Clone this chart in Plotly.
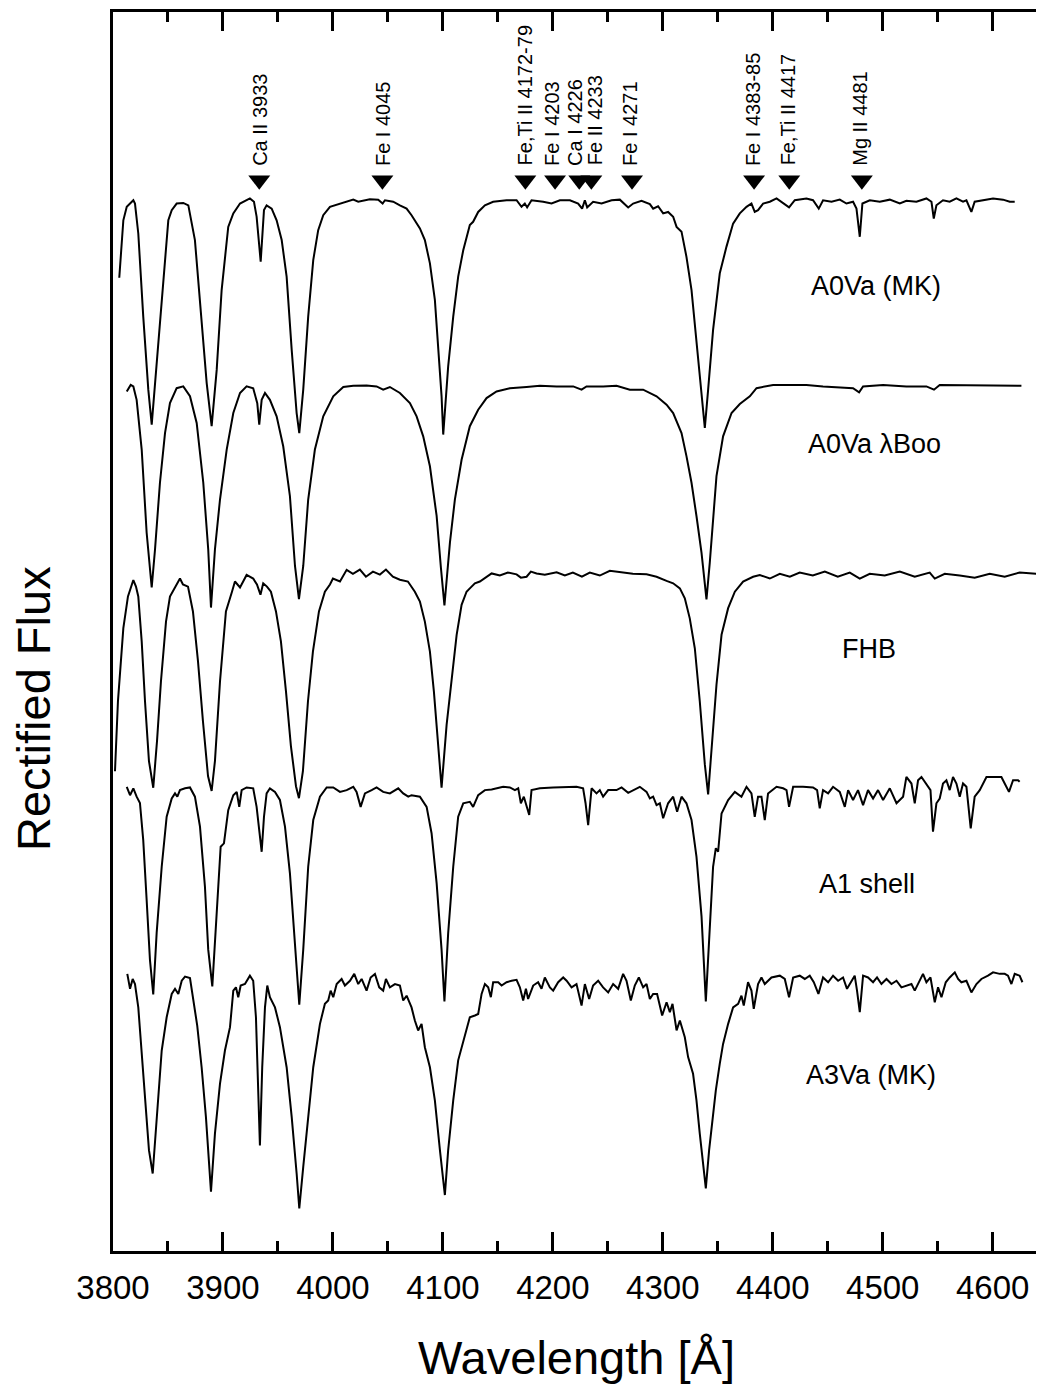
import plotly.graph_objects as go

# ---------------- data ----------------
# A0Va (MK)
wl_a0mk = [3805.7,3809.4,3812.5,3818.5,3820.0,3823.0,3827.5,3832.1,3835.2,3839.7,3845.7,3850.3,3853.4,3857.9,3863.9,3868.5,3874.5,3879.1,3885.2,3889.7,
           3894.3,3898.8,3904.8,3909.4,3915.5,3924.5,3928.2,3930.6,3934.3,3937.3,3939.7,3944.3,3948.8,3953.4,3957.9,3962.5,3967.0,3969.4,3973.0,3977.5,
           3982.1,3986.6,3991.2,3997.3,4006.4,4012.5,4018.5,4023.0,4027.5,4033.6,4041.2,4045.2,4047.3,4054.8,4060.9,4067.0,4071.5,4074.5,4079.1,4083.6,
           4088.2,4092.7,4095.7,4098.8,4100.3,4104.8,4109.4,4113.9,4118.5,4124.5,4127.5,4132.1,4138.2,4145.7,4157.9,4167.0,4171.5,4174.5,4176.6,4180.6,
           4191.2,4198.8,4206.4,4215.5,4223.0,4226.6,4229.1,4231.2,4236.6,4244.3,4253.4,4260.9,4268.5,4273.0,4280.6,4288.2,4291.2,4295.7,4300.3,4304.8,
           4309.4,4312.5,4317.0,4321.5,4326.1,4330.6,4335.2,4338.2,4341.2,4345.7,4351.8,4357.9,4363.9,4370.0,4376.1,4380.6,4383.6,4386.6,4391.2,4397.3,
           4403.4,4407.9,4414.8,4420.0,4430.6,4436.6,4441.8,4445.7,4453.4,4460.9,4467.0,4473.0,4476.1,4479.1,4481.5,4488.2,4497.3,4506.4,4515.5,4521.5,
           4530.6,4539.7,4544.3,4546.4,4548.8,4554.8,4560.9,4567.0,4573.0,4576.1,4580.6,4583.6,4591.2,4600.3,4609.4,4615.5,4620.0]
fx_a0mk = [0.742,0.934,0.979,1.001,0.990,0.890,0.613,0.368,0.251,0.447,0.723,0.934,0.968,0.990,0.992,0.984,0.868,0.668,0.390,0.246,
           0.434,0.701,0.912,0.957,0.990,1.007,0.996,0.946,0.796,0.968,0.984,0.973,0.934,0.868,0.746,0.501,0.290,0.223,0.368,0.612,
           0.801,0.901,0.951,0.979,0.990,0.996,1.003,0.996,0.999,1.004,1.003,0.990,1.001,0.996,0.984,0.973,0.951,0.934,0.907,0.868,
           0.790,0.668,0.523,0.346,0.218,0.446,0.612,0.746,0.834,0.918,0.929,0.962,0.984,0.996,1.001,1.001,0.979,0.990,0.977,1.001,
           0.996,0.990,1.001,1.001,0.990,0.973,1.001,0.977,0.996,0.990,1.001,1.003,0.977,0.990,0.999,0.988,0.973,0.981,0.957,0.962,
           0.946,0.912,0.896,0.812,0.701,0.534,0.346,0.240,0.368,0.568,0.757,0.846,0.923,0.957,0.979,0.990,0.962,0.968,0.990,0.996,
           1.007,0.996,0.977,1.001,1.007,1.001,0.973,1.001,0.996,1.003,0.990,0.996,0.973,0.879,0.990,1.001,0.996,1.003,0.990,0.999,
           0.996,1.007,0.996,0.940,0.984,1.001,0.996,1.007,0.996,1.001,0.962,0.996,1.001,1.007,1.003,0.996,0.996]

# A0Va lambda Boo
wl_a0lb = [3812.5,3816.1,3818.5,3821.5,3826.1,3830.6,3835.2,3838.2,3842.7,3847.3,3851.8,3857.9,3863.9,3870.0,3876.1,3882.1,3886.6,3889.1,3892.7,3897.3,
           3903.4,3909.4,3915.5,3921.5,3927.5,3931.2,3933.0,3935.2,3938.2,3942.7,3948.8,3954.8,3960.9,3965.5,3969.1,3973.0,3977.5,3983.6,3991.2,4000.3,
           4009.4,4018.5,4030.6,4039.7,4045.7,4051.8,4060.9,4070.0,4076.1,4082.1,4088.2,4094.3,4098.2,4101.4,4106.4,4110.9,4117.0,4124.5,4132.1,4139.7,
           4148.8,4160.9,4176.1,4188.2,4203.4,4218.5,4226.1,4230.6,4245.7,4257.9,4270.0,4282.1,4294.3,4303.4,4309.4,4317.0,4321.5,4326.1,4330.6,4335.2,
           4339.7,4342.7,4348.8,4354.8,4362.5,4370.0,4379.1,4385.2,4400.3,4415.5,4430.6,4445.7,4460.9,4473.0,4478.5,4482.1,4500.3,4521.5,4539.7,4546.6,
           4551.8,4567.0,4582.1,4600.3,4626.1]
fx_a0lb = [0.982,1.004,0.999,0.954,0.788,0.510,0.327,0.454,0.677,0.843,0.943,0.993,0.999,0.966,0.877,0.677,0.454,0.260,0.454,0.621,
           0.788,0.910,0.977,0.999,0.993,0.943,0.871,0.954,0.977,0.954,0.899,0.799,0.632,0.399,0.288,0.399,0.621,0.788,0.899,0.966,
           0.997,1.001,1.002,0.999,0.988,0.997,0.977,0.943,0.899,0.832,0.732,0.566,0.393,0.267,0.477,0.621,0.754,0.866,0.921,0.960,
           0.982,0.993,0.997,1.001,0.999,0.999,0.988,0.999,0.999,1.001,0.988,0.988,0.966,0.938,0.910,0.843,0.766,0.677,0.566,0.443,
           0.287,0.410,0.699,0.832,0.910,0.940,0.966,0.993,1.004,1.004,1.004,0.999,0.997,0.993,0.979,0.999,1.004,0.999,0.999,0.988,
           1.004,1.004,1.002,1.002,1.001]

# FHB
wl_fhb = [3801.8,3804.5,3809.4,3813.6,3818.5,3820.9,3823.0,3826.1,3829.1,3832.7,3836.6,3840.0,3843.6,3848.2,3851.8,3856.4,3860.9,3863.6,3868.2,3872.7,
          3877.3,3881.8,3886.4,3889.7,3892.7,3897.3,3902.7,3908.2,3910.9,3915.5,3921.5,3927.5,3930.9,3934.1,3936.6,3940.0,3943.6,3948.2,3952.7,3957.3,
          3961.8,3966.4,3969.1,3972.7,3977.3,3981.8,3987.3,3992.7,3997.3,4000.0,4006.4,4012.5,4018.2,4024.5,4030.0,4036.4,4042.7,4048.2,4054.5,4060.9,
          4068.2,4074.5,4079.1,4083.6,4088.2,4091.8,4095.5,4098.8,4103.4,4107.9,4112.5,4117.0,4121.5,4124.5,4129.1,4133.6,4139.7,4144.3,4151.8,4159.1,
          4167.0,4170.9,4176.1,4180.0,4185.2,4192.7,4203.4,4210.9,4218.2,4226.4,4233.6,4242.7,4251.8,4260.9,4272.7,4285.2,4294.3,4303.4,4309.4,4315.5,
          4320.0,4324.5,4329.1,4333.6,4338.2,4341.2,4344.3,4348.8,4353.4,4359.4,4365.5,4373.0,4382.1,4388.2,4397.3,4406.4,4415.5,4424.5,4436.4,4447.3,
          4459.1,4470.0,4479.1,4488.2,4501.8,4515.5,4529.1,4542.7,4547.3,4556.4,4570.0,4583.6,4597.3,4610.9,4624.5,4640.9]
fx_fhb = [0.343,0.577,0.821,0.927,0.982,0.960,0.927,0.777,0.577,0.377,0.288,0.443,0.643,0.843,0.927,0.960,0.987,0.967,0.960,0.877,
          0.710,0.510,0.327,0.277,0.377,0.643,0.877,0.943,0.977,0.957,0.999,0.987,0.967,0.933,0.971,0.960,0.943,0.877,0.777,0.610,
          0.427,0.293,0.253,0.343,0.577,0.743,0.877,0.943,0.967,0.987,0.977,1.016,1.003,1.017,0.993,1.010,1.000,1.017,0.993,0.983,
          0.977,0.943,0.910,0.843,0.743,0.610,0.443,0.288,0.499,0.654,0.799,0.899,0.943,0.954,0.971,0.977,0.993,1.004,0.997,1.007,
          1.001,0.990,0.993,1.010,1.004,1.000,1.008,0.997,1.007,0.993,1.007,0.997,1.013,1.008,1.003,1.001,0.993,0.979,0.971,0.954,
          0.921,0.854,0.754,0.577,0.366,0.266,0.410,0.632,0.799,0.888,0.943,0.977,0.993,0.999,0.987,1.003,0.993,1.007,0.997,1.010,
          0.993,1.007,0.987,1.003,0.997,1.010,0.993,1.007,0.987,1.003,0.997,0.990,1.003,0.993,1.007,1.003]

# A1 shell
wl_a1sh = [3812.5,3815.5,3818.5,3821.5,3824.5,3827.5,3830.6,3833.6,3836.6,3839.7,3844.3,3848.8,3853.4,3856.4,3858.5,3860.9,3865.5,3870.0,3874.5,3879.1,
           3883.6,3886.6,3890.3,3894.3,3897.9,3900.9,3904.8,3909.4,3912.5,3914.8,3917.0,3921.5,3927.5,3930.6,3933.0,3935.2,3937.3,3939.7,3942.7,3947.3,
           3951.8,3956.4,3960.9,3964.8,3969.4,3973.0,3977.5,3982.1,3988.2,3994.3,4000.3,4006.4,4012.5,4018.5,4021.5,4025.2,4029.1,4035.2,4039.7,4045.7,
           4051.8,4059.4,4063.9,4068.5,4071.5,4079.1,4085.2,4089.7,4094.3,4098.8,4101.4,4104.8,4109.4,4113.9,4118.5,4124.5,4127.5,4132.1,4138.2,4144.3,
           4148.8,4154.8,4160.9,4165.5,4168.5,4170.9,4173.6,4176.1,4178.5,4180.6,4188.2,4200.3,4212.5,4221.5,4227.5,4229.7,4232.1,4235.2,4239.7,4242.7,
           4245.7,4250.3,4257.9,4262.5,4268.5,4273.0,4279.1,4285.2,4288.2,4291.2,4294.3,4297.3,4300.3,4304.8,4309.4,4313.0,4317.0,4321.5,4326.1,4330.6,
           4335.2,4339.1,4342.7,4345.7,4348.2,4350.3,4353.4,4359.4,4365.5,4371.5,4376.1,4380.6,4383.6,4386.6,4389.7,4392.7,4395.7,4403.4,4409.4,4412.5,
           4414.8,4418.5,4427.5,4436.6,4440.3,4442.7,4445.7,4450.3,4454.8,4460.9,4465.5,4468.5,4473.0,4477.5,4482.1,4486.6,4491.2,4495.7,4500.3,4506.4,
           4512.5,4518.5,4521.5,4526.1,4529.1,4532.1,4535.2,4539.7,4543.4,4545.7,4548.8,4551.8,4554.8,4557.9,4560.9,4563.9,4567.0,4570.0,4573.0,4576.1,
           4580.0,4583.6,4588.2,4594.3,4600.3,4607.9,4610.9,4614.8,4618.5,4623.0,4624.5]
fx_a1sh = [1.001,0.973,0.996,0.968,0.947,0.823,0.623,0.423,0.307,0.513,0.734,0.901,0.962,0.979,0.968,0.990,0.996,0.999,0.968,0.868,
           0.668,0.457,0.334,0.568,0.801,0.812,0.923,0.973,0.984,0.934,0.990,0.999,0.996,0.934,0.846,0.784,0.901,0.979,0.996,0.984,
           0.957,0.868,0.712,0.512,0.273,0.457,0.734,0.890,0.968,0.999,0.999,0.984,0.990,1.001,0.984,0.934,0.979,0.990,0.999,0.984,
           0.979,0.996,0.979,0.968,0.973,0.968,0.934,0.846,0.679,0.457,0.284,0.512,0.734,0.901,0.946,0.951,0.934,0.973,0.990,0.992,
           0.996,1.001,0.999,0.990,0.996,0.946,0.968,0.940,0.907,0.990,0.996,0.999,1.001,1.001,0.996,0.947,0.873,0.996,0.979,0.990,
           0.968,0.990,0.990,0.999,0.981,0.990,1.001,0.984,0.962,0.968,0.940,0.946,0.896,0.946,0.968,0.918,0.968,0.946,0.890,0.768,
           0.568,0.284,0.512,0.734,0.796,0.784,0.912,0.957,0.984,0.968,1.001,0.979,0.901,0.968,0.968,0.890,0.979,1.001,0.996,0.990,
           0.934,1.001,1.001,0.999,0.990,0.929,0.990,0.979,1.001,0.984,0.934,0.990,0.957,0.990,0.940,0.990,0.962,0.990,0.957,0.996,
           0.946,0.968,1.034,1.012,0.946,1.023,1.034,1.012,0.990,0.851,0.946,0.962,1.012,1.023,0.990,1.034,1.012,0.968,1.012,1.001,
           0.862,0.968,0.990,1.034,1.034,1.034,1.012,0.984,1.023,1.023,1.018]

# A3Va (MK)
wl_a3mk = [3813.0,3815.5,3817.9,3820.0,3823.0,3826.1,3829.1,3832.7,3836.1,3839.7,3844.3,3848.8,3853.4,3856.4,3859.4,3862.5,3865.5,3870.0,3873.0,3876.6,
           3880.6,3884.5,3889.1,3892.7,3897.3,3901.8,3906.4,3909.4,3911.8,3913.9,3916.1,3920.0,3924.5,3927.5,3930.0,3932.1,3933.6,3935.7,3938.2,3940.3,
           3942.7,3947.3,3951.8,3957.9,3962.5,3967.0,3969.4,3973.0,3977.5,3982.1,3988.2,3992.7,3995.7,3997.9,4000.3,4003.4,4007.9,4010.9,4015.5,4019.4,
           4023.0,4026.1,4030.6,4034.3,4038.2,4042.1,4045.7,4048.2,4051.8,4056.4,4060.9,4063.9,4067.0,4071.5,4074.5,4077.5,4080.6,4083.6,4088.2,4092.7,
           4097.3,4100.3,4101.8,4104.8,4109.4,4113.9,4118.5,4124.5,4129.1,4132.1,4135.2,4138.2,4141.2,4143.6,4145.7,4150.3,4153.4,4157.9,4162.5,4167.0,
           4170.0,4173.0,4175.5,4177.5,4182.1,4186.6,4189.7,4192.7,4197.3,4200.3,4204.8,4209.4,4212.5,4217.0,4221.5,4226.1,4229.1,4233.0,4236.6,4241.2,
           4245.7,4250.3,4254.8,4259.4,4263.9,4267.0,4270.9,4274.5,4278.2,4282.1,4285.2,4288.2,4291.2,4294.8,4299.4,4303.4,4306.4,4308.8,4312.5,4315.5,
           4320.0,4323.0,4327.5,4330.6,4333.6,4336.6,4339.1,4342.1,4345.2,4348.2,4351.8,4354.8,4359.4,4363.9,4368.5,4371.5,4373.6,4377.5,4380.6,4382.7,
           4386.6,4389.7,4392.7,4398.8,4406.4,4410.9,4414.8,4418.5,4424.5,4429.1,4433.6,4437.3,4441.5,4445.7,4450.3,4454.8,4459.4,4463.9,4467.5,4471.5,
           4474.5,4476.6,4479.1,4482.1,4486.6,4491.2,4494.8,4498.8,4503.4,4507.9,4512.5,4517.0,4521.5,4526.1,4529.1,4533.6,4536.6,4539.7,4543.4,4547.3,
           4550.3,4553.4,4557.3,4560.9,4565.5,4568.5,4571.5,4576.1,4580.6,4585.2,4589.7,4595.7,4600.3,4606.4,4610.9,4613.9,4617.0,4620.0,4624.5,4627.0]
fx_a3mk = [1.006,0.956,0.989,0.972,0.894,0.750,0.583,0.417,0.339,0.528,0.750,0.861,0.939,0.956,0.939,0.983,0.997,0.992,0.917,0.833,
           0.694,0.528,0.278,0.472,0.639,0.750,0.828,0.950,0.961,0.928,0.967,0.972,1.000,0.983,0.861,0.639,0.433,0.694,0.894,0.967,
           0.928,0.894,0.828,0.694,0.528,0.339,0.222,0.361,0.528,0.694,0.839,0.906,0.917,0.950,0.928,0.972,0.989,0.967,0.983,1.006,
           0.972,0.989,0.950,0.994,1.006,0.961,0.950,0.989,0.961,0.972,0.967,0.917,0.933,0.894,0.850,0.817,0.839,0.761,0.694,0.583,
           0.417,0.306,0.267,0.417,0.583,0.717,0.783,0.861,0.867,0.872,0.939,0.972,0.961,0.928,0.978,0.978,0.967,0.978,0.983,0.986,
           0.961,0.917,0.956,0.922,0.967,0.978,0.956,0.994,0.961,0.950,0.978,0.994,0.983,0.961,0.972,0.900,0.972,0.922,0.967,0.983,
           0.961,0.944,0.972,0.956,1.006,0.983,0.917,0.967,0.994,0.961,0.972,0.922,0.939,0.939,0.867,0.911,0.878,0.906,0.817,0.850,
           0.794,0.728,0.672,0.583,0.472,0.361,0.289,0.417,0.528,0.617,0.706,0.772,0.839,0.894,0.906,0.933,0.900,0.978,0.950,0.889,
           0.972,0.994,0.972,0.994,1.000,0.989,0.928,0.994,1.000,0.989,1.000,0.978,0.939,0.994,0.978,1.000,0.983,0.994,0.956,0.983,
           1.000,0.950,0.878,1.000,0.994,0.978,0.994,0.972,0.989,0.972,0.983,0.961,0.967,0.972,0.950,0.983,1.006,0.978,0.994,0.911,
           0.961,0.928,0.978,0.994,1.011,0.989,0.978,0.983,0.944,0.972,0.989,1.000,1.011,1.006,1.006,1.000,0.972,1.006,1.000,0.978]

star_names = ["A0Va (MK)", "A0Va λBoo", "FHB", "A1 shell", "A3Va (MK)"]
star_offsets = [2.61, 1.99, 1.36, 0.65, 0.02]

line_labels = ["Ca II 3933", "Fe I 4045", "Fe,Ti II 4172-79", "Fe I 4203", "Ca I 4226",
               "Fe II 4233", "Fe I 4271", "Fe I 4383-85", "Fe,Ti II 4417", "Mg II 4481"]
line_marks = [3933, 4045, 4175, 4202, 4224, 4235, 4272, 4383, 4415, 4481]
line_text_x = [3933, 4045.5, 4174.5, 4199, 4220, 4238, 4270, 4382, 4413.6, 4479]

x_ticks = [3800, 3900, 4000, 4100, 4200, 4300, 4400, 4500, 4600]

spectra = [(wl_a0mk, fx_a0mk), (wl_a0lb, fx_a0lb), (wl_fhb, fx_fhb), (wl_a1sh, fx_a1sh), (wl_a3mk, fx_a3mk)]

# ---------------- figure ----------------
FONT = "Liberation Sans, Arial, Helvetica, sans-serif"
fig = go.Figure()

for (wl, fx), off in zip(spectra, star_offsets):
    fig.add_trace(go.Scatter(x=wl, y=[v + off for v in fx], mode="lines",
                             line=dict(color="black", width=2), showlegend=False,
                             hoverinfo="skip"))

mark_y = 3.678
fig.add_trace(go.Scatter(x=line_marks, y=[mark_y] * len(line_marks), mode="markers",
                         marker=dict(symbol="triangle-down", size=19, color="black"),
                         showlegend=False, hoverinfo="skip"))

for txt, lx in zip(line_labels, line_text_x):
    fig.add_annotation(x=lx, y=3.72, text=txt, textangle=-90, showarrow=False,
                       xanchor="center", yanchor="bottom",
                       font=dict(family=FONT, size=20, color="black"))

label_pos = [(4493.6, 3.323), (4492.7, 2.797), (4487.3, 2.11), (4485.5, 1.327), (4489.0, 0.687)]
for name, (lx, ly) in zip(star_names, label_pos):
    fig.add_annotation(x=lx, y=ly, text=name, showarrow=False, xanchor="center", yanchor="middle",
                       font=dict(family=FONT, size=27, color="black"))

fig.add_annotation(xref="paper", yref="paper", x=0.5, y=-0.0862, text="Wavelength [Å]",
                   showarrow=False, xanchor="center", yanchor="middle",
                   font=dict(family=FONT, size=47, color="black"))
fig.add_annotation(xref="paper", yref="paper", x=-0.0855, y=0.438, text="Rectified Flux",
                   textangle=-90, showarrow=False, xanchor="center", yanchor="middle",
                   font=dict(family=FONT, size=47, color="black"))

fig.add_shape(type="line", xref="paper", yref="paper", x0=1, x1=1, y0=0, y1=1,
              line=dict(color="black", width=1.5))

fig.update_xaxes(range=[3800, 4643], tickmode="array", tickvals=x_ticks,
                 ticktext=[str(t) for t in x_ticks], ticks="inside", ticklen=19, tickwidth=2.5,
                 tickcolor="black", showline=True, linewidth=3, linecolor="black", mirror="ticks",
                 showgrid=False, zeroline=False, ticklabelstandoff=5,
                 tickfont=dict(family=FONT, size=33, color="black"),
                 minor=dict(dtick=50, tick0=3800, ticks="inside", ticklen=10, tickwidth=2.5, tickcolor="black", showgrid=False))
fig.update_yaxes(range=[0.1, 4.24], showticklabels=False, ticks="", showline=True, linewidth=3,
                 linecolor="black", mirror=False, showgrid=False, zeroline=False)

# the page body adds an 8 px margin, so the figure is 8 px smaller on each side
fig.update_layout(width=1036, height=1382, margin=dict(l=105, r=4, t=1, b=139),
                  paper_bgcolor="white", plot_bgcolor="white", showlegend=False)

fig.write_html("out.html")
